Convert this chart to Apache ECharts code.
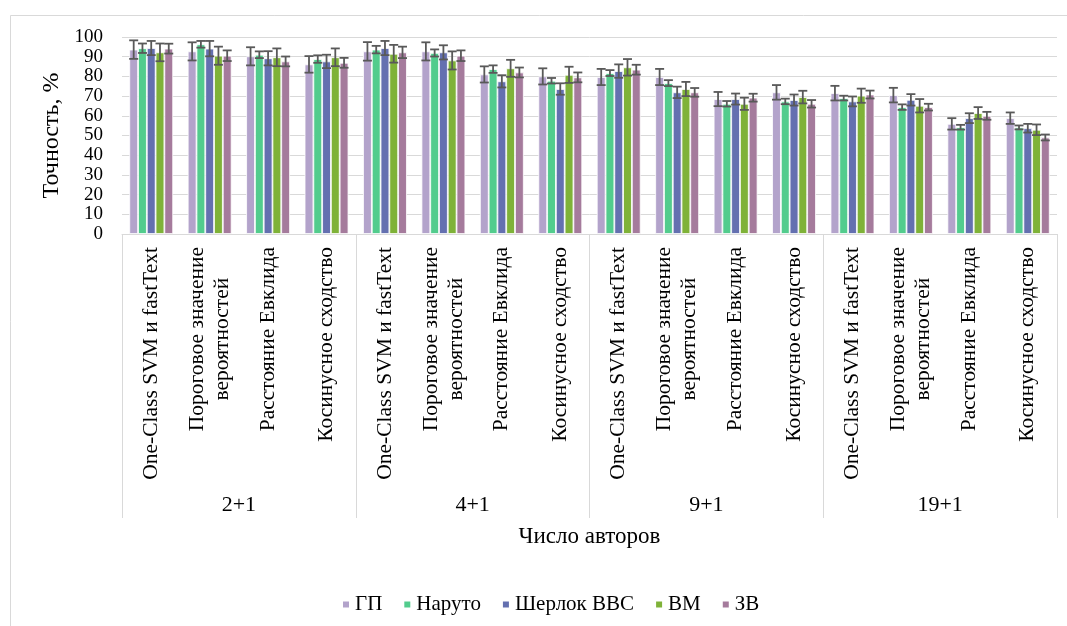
<!DOCTYPE html>
<html>
<head>
<meta charset="utf-8">
<script src="https://cdn.jsdelivr.net/npm/echarts@6/dist/echarts.min.js"></script>
<style>
  html, body { margin: 0; padding: 0; background: #fff; }
  #chart { width: 1067px; height: 626px; }
</style>
</head>
<body>
<div id="chart"></div>
<script>
// Outer groups (number of authors) and inner categories (method)
const groups = ['2+1', '4+1', '9+1', '19+1'];
const methods = ['One-Class SVM и fastText', 'Пороговое значение\nвероятностей', 'Расстояние Евклида', 'Косинусное сходство'];
const seriesNames = ['ГП', 'Наруто', 'Шерлок BBC', 'ВМ', 'ЗВ'];
const yTicks = { min: 0, max: 100, step: 10 };

// Accuracy, % (16 values per series: 4 methods x 4 groups)
const gp       = [93.6, 92.7, 90.2, 86.1, 92.7, 92.7, 81.0, 80.0, 79.7, 79.7, 68.5, 71.9, 71.5, 70.5, 55.9, 58.8];
const naruto   = [94.3, 96.3, 91.0, 88.8, 93.6, 91.9, 83.7, 77.8, 81.7, 76.6, 66.1, 67.3, 69.0, 64.4, 54.2, 54.1];
const sherlock = [94.4, 94.1, 89.2, 87.6, 94.4, 92.2, 77.5, 73.6, 82.7, 71.9, 68.5, 68.0, 67.3, 68.1, 58.8, 53.7];
const vm       = [92.2, 90.5, 89.7, 89.7, 91.5, 88.1, 84.1, 80.8, 84.6, 73.6, 66.1, 69.5, 70.2, 65.1, 61.4, 52.9];
const zv       = [94.1, 90.5, 87.6, 86.9, 92.2, 90.5, 82.0, 79.5, 83.4, 71.9, 69.2, 66.1, 70.8, 64.4, 60.0, 49.0];

// Error bar half-widths, %
const gpErr       = [4.7, 4.6, 4.6, 4.2, 4.7, 4.6, 4.1, 4.1, 4.1, 4.1, 3.6, 3.7, 3.7, 3.7, 2.9, 2.9];
const narutoErr   = [2.4, 1.7, 1.7, 1.9, 1.9, 1.8, 1.9, 1.4, 1.5, 1.5, 1.4, 1.4, 1.2, 1.4, 1.2, 1.0];
const sherlockErr = [3.6, 3.9, 3.6, 3.4, 3.6, 3.6, 3.1, 2.9, 3.4, 2.9, 2.8, 2.8, 2.5, 2.9, 2.5, 2.2];
const vmErr       = [4.5, 4.6, 4.5, 4.5, 4.5, 4.6, 4.3, 4.1, 4.2, 3.6, 3.1, 3.2, 3.6, 3.4, 3.0, 2.7];
const zvErr       = [2.5, 2.7, 2.5, 2.5, 2.9, 2.7, 2.5, 2.5, 2.5, 2.2, 2.0, 1.9, 2.0, 1.7, 2.0, 1.5];

const values = [gp, naruto, sherlock, vm, zv];
const errors = [gpErr, narutoErr, sherlockErr, vmErr, zvErr];
const colors = ['#b3a3cb', '#52cc8d', '#6470b0', '#7fb238', '#a57b9c'];

const FONT = 'Liberation Serif';
const BAR_GAP = '0%';
const BAR_CAT_GAP = '25%';

// inner category labels, repeated for every group
const innerCats = [];
groups.forEach(() => methods.forEach(m => innerCats.push(m)));

// two-line labels are centred line by line
function catLabel(text) {
  return text.split('\n').map(l => '{c|' + l + '}').join('\n');
}

const barSeries = seriesNames.map((name, s) => ({
  name: name,
  type: 'bar',
  xAxisIndex: 0,
  barGap: BAR_GAP,
  barCategoryGap: BAR_CAT_GAP,
  itemStyle: { color: colors[s], borderColor: '#ffffff', borderWidth: 0.8 },
  data: values[s]
}));

const errData = [];
values.forEach((arr, s) => arr.forEach((v, i) => errData.push([i, s, v, errors[s][i]])));

const errSeries = {
  name: 'err',
  type: 'custom',
  xAxisIndex: 0,
  z: 5,
  encode: { x: 0, y: 2 },
  data: errData,
  renderItem: function (params, api) {
    const i = api.value(0), s = api.value(1), v = api.value(2), e = api.value(3);
    const layout = api.barLayout({ barGap: BAR_GAP, barCategoryGap: BAR_CAT_GAP, count: seriesNames.length });
    const x = api.coord([i, v])[0] + layout[s].offsetCenter;
    const yHi = api.coord([i, v + e])[1];
    const yLo = api.coord([i, v - e])[1];
    const cap = 4.5;
    const style = { stroke: '#595959', lineWidth: 1.8 };
    return {
      type: 'group',
      children: [
        { type: 'line', shape: { x1: x, y1: yHi, x2: x, y2: yLo }, style: style },
        { type: 'line', shape: { x1: x - cap, y1: yHi, x2: x + cap, y2: yHi }, style: style },
        { type: 'line', shape: { x1: x - cap, y1: yLo, x2: x + cap, y2: yLo }, style: style }
      ]
    };
  }
};

const chart = echarts.init(document.getElementById('chart'), null, { renderer: 'canvas' });
chart.setOption({
  animation: false,
  backgroundColor: '#ffffff',
  textStyle: { fontFamily: FONT, color: '#000' },
  graphic: [{
    type: 'rect',
    left: 8, top: 13,
    shape: { width: 1100, height: 660 },
    style: { fill: 'none', stroke: '#d9d9d9', lineWidth: 1 },
    silent: true
  }],
  grid: { left: 122, right: 10, top: 37, bottom: 392, containLabel: false },
  legend: {
    data: seriesNames,
    left: 336, top: 589,
    icon: 'rect', itemWidth: 8, itemHeight: 8, itemGap: 20,
    textStyle: { fontFamily: FONT, fontSize: 21, color: '#000' }
  },
  xAxis: [{
    type: 'category',
    position: 'bottom',
    data: innerCats,
    axisLine: { lineStyle: { color: '#d9d9d9', width: 1 } },
    axisTick: { show: false },
    axisLabel: {
      interval: 0,
      rotate: 90,
      margin: 13,
      fontFamily: FONT,
      fontSize: 21.5,
      color: '#000',
      lineHeight: 25,
      formatter: catLabel,
      rich: { c: { align: 'center', fontFamily: FONT, fontSize: 21.5, color: '#000', lineHeight: 25 } }
    }
  }, {
    type: 'category',
    position: 'bottom',
    data: groups,
    axisLine: { show: false },
    axisTick: { show: true, length: 284, lineStyle: { color: '#d9d9d9', width: 1 } },
    axisLabel: { margin: 260, fontFamily: FONT, fontSize: 22, color: '#000' },
    name: 'Число авторов',
    nameLocation: 'middle',
    nameGap: 291,
    nameTextStyle: { fontFamily: FONT, fontSize: 23, color: '#000' }
  }],
  yAxis: {
    type: 'value',
    min: yTicks.min, max: yTicks.max, interval: yTicks.step,
    axisLine: { show: false },
    axisTick: { show: false },
    splitLine: { lineStyle: { color: '#d9d9d9', width: 1 } },
    axisLabel: { margin: 19, fontFamily: FONT, fontSize: 19, color: '#000' },
    name: 'Точность, %',
    nameLocation: 'middle',
    nameGap: 56,
    nameRotate: 90,
    nameTextStyle: { fontFamily: FONT, fontSize: 24, color: '#000' }
  },
  series: barSeries.concat([errSeries])
});
</script>
</body>
</html>
